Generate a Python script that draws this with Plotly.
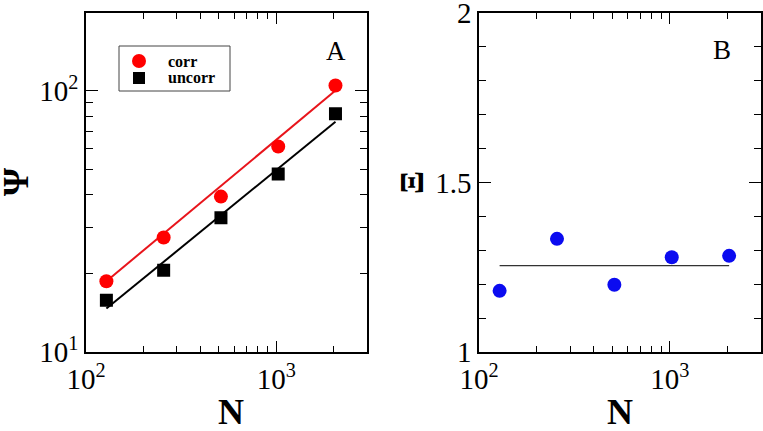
import plotly.graph_objects as go

# Data
N = [128, 256, 512, 1024, 2048]
psi_corr = [18.7, 27.5, 39.4, 61.3, 104.8]
psi_uncorr = [15.8, 20.6, 32.7, 48.1, 81.7]
fit_corr = [18.7, 100.3]
fit_uncorr = [14.7, 76.2]
fit_N = [128, 2048]
xi = [1.181, 1.334, 1.199, 1.280, 1.284]
xi_mean = [1.255, 1.255]

x_tickvals = [100, 1000]
x_ticktext = ["10<sup>2</sup>", "10<sup>3</sup>"]
x_minor = [200, 300, 400, 500, 600, 700, 800, 900, 2000, 3000]
yA_tickvals = [10, 100]
yA_ticktext = ["10<sup>1</sup>", "10<sup>2</sup>"]
yA_minor = [20, 30, 40, 50, 60, 70, 80, 90, 200]
yB_tickvals = [1, 1.5, 2]
yB_ticktext = ["1", "1.5", "2"]
yB_minor = [1.1, 1.2, 1.3, 1.4, 1.6, 1.7, 1.8, 1.9]
legend_names = ["corr", "uncorr"]

SERIF = "Liberation Serif"
W, H = 763, 431
fig = go.Figure()

fig.add_trace(go.Scatter(x=fit_N, y=fit_corr, mode="lines", line=dict(color="#e8141b", width=2),
                         showlegend=False, xaxis="x", yaxis="y"))
fig.add_trace(go.Scatter(x=fit_N, y=fit_uncorr, mode="lines", line=dict(color="black", width=2),
                         showlegend=False, xaxis="x", yaxis="y"))
fig.add_trace(go.Scatter(x=N, y=psi_corr, mode="markers", name=legend_names[0], showlegend=False,
                         marker=dict(color="#ff0000", size=14, symbol="circle"), xaxis="x", yaxis="y"))
fig.add_trace(go.Scatter(x=N, y=psi_uncorr, mode="markers", name=legend_names[1], showlegend=False,
                         marker=dict(color="black", size=13, symbol="square"), xaxis="x", yaxis="y"))

fig.add_trace(go.Scatter(x=fit_N, y=xi_mean, mode="lines", line=dict(color="#333333", width=1.3),
                         showlegend=False, xaxis="x2", yaxis="y2"))
fig.add_trace(go.Scatter(x=N, y=xi, mode="markers", marker=dict(color="#0b0bf0", size=14),
                         showlegend=False, xaxis="x2", yaxis="y2"))

ax_common = dict(showline=True, linecolor="black", linewidth=1.5, mirror="ticks",
                 ticks="inside", ticklen=12, tickwidth=1.2, tickcolor="black",
                 showgrid=False, zeroline=False, automargin=False,
                 ticklabeloverflow="allow",
                 tickfont=dict(family=SERIF, size=29, color="black"))


def px(x):
    return x / W


def py(y):
    return 1 - y / H


def label(text, x, y, size, bold=False, angle=0, xanchor="center"):
    return dict(text=("<b>%s</b>" % text) if bold else text, x=px(x), y=py(y),
                xref="paper", yref="paper", xanchor=xanchor, yanchor="middle",
                showarrow=False, textangle=angle,
                font=dict(family=SERIF, size=size, color="black"))


# hand-built legend box (pixel layout of the reference legend)
shapes = [
    dict(type="rect", xref="paper", yref="paper", x0=px(119), x1=px(230), y0=py(91), y1=py(46),
         line=dict(color="#444444", width=1), fillcolor="white", layer="above"),
    dict(type="circle", xref="paper", yref="paper", x0=px(132), x1=px(146), y0=py(68), y1=py(54),
         line=dict(width=0), fillcolor="#ff0000", layer="above"),
    dict(type="rect", xref="paper", yref="paper", x0=px(133), x1=px(145), y0=py(84), y1=py(72),
         line=dict(width=0), fillcolor="black", layer="above"),
]

fig.update_layout(
    width=W, height=H,
    margin=dict(l=0, r=0, t=0, b=0),
    paper_bgcolor="white", plot_bgcolor="white",
    showlegend=False,
    xaxis=dict(domain=[0.1127, 0.481], type="log", range=[2, 3.477], anchor="y",
               tickvals=x_tickvals, ticktext=x_ticktext,
               minor=dict(tickvals=x_minor, ticks="inside", ticklen=7, tickcolor="black", tickwidth=1.2),
               **ax_common),
    yaxis=dict(domain=[0.1826, 0.9705], type="log", range=[1, 2.299], anchor="x",
               tickvals=yA_tickvals, ticktext=yA_ticktext,
               minor=dict(tickvals=yA_minor, ticks="inside", ticklen=7, tickcolor="black", tickwidth=1.2),
               **ax_common),
    xaxis2=dict(domain=[0.628, 0.997], type="log", range=[2, 3.477], anchor="y2",
                tickvals=x_tickvals, ticktext=x_ticktext,
                minor=dict(tickvals=x_minor, ticks="inside", ticklen=7, tickcolor="black", tickwidth=1.2),
                **ax_common),
    yaxis2=dict(domain=[0.1826, 0.9705], range=[1, 2], anchor="x2",
                tickvals=yB_tickvals, ticktext=yB_ticktext,
                minor=dict(tickvals=yB_minor, ticks="inside", ticklen=7, tickcolor="black", tickwidth=1.2),
                **ax_common),
    shapes=shapes,
    annotations=[
        label(legend_names[0], 166, 61, 16, bold=True, xanchor="left"),
        label(legend_names[1], 166, 77, 16, bold=True, xanchor="left"),
        label("A", 336, 51, 27),
        label("B", 722, 50, 27),
        label("N", 231, 412, 36, bold=True),
        label("N", 620, 412, 36, bold=True),
        label("Ψ", 16, 182, 36, bold=True, angle=-90),
        label("Ξ", 412, 182, 34, bold=True, angle=-90),
    ],
)

fig.write_html("out.html", config={"displayModeBar": False},
               post_script="document.body.style.margin='0';")
